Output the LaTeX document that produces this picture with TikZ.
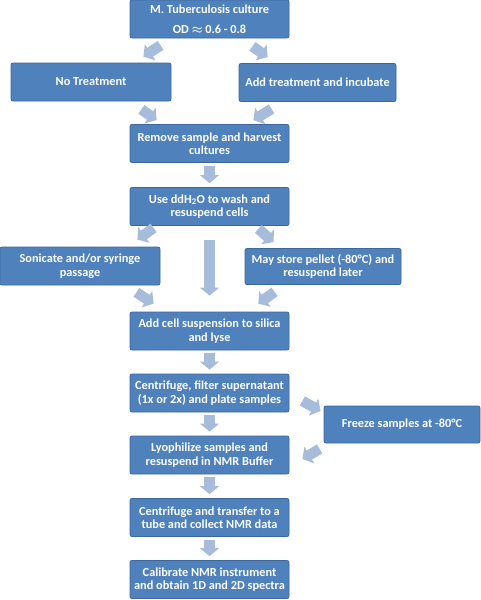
\documentclass[tikz,border=0pt]{standalone}
\usepackage{fontspec}
\setmainfont{Carlito}
\usetikzlibrary{arrows.meta, calc}

\definecolor{boxblue}{RGB}{79,129,189}
\definecolor{boxline}{RGB}{60,103,156}
\definecolor{arrowblue}{RGB}{167,187,218}

\begin{document}
\begin{tikzpicture}[
    x=1pt, y=-1pt,
    stepbox/.style={draw=boxline, fill=boxblue, rounded corners=2pt,
        line width=0.8pt, text=white, align=center, inner sep=2pt,
        minimum width=159pt, minimum height=38pt,
        font=\bfseries\boldmath\fontsize{12.3}{13.5}\selectfont},
    flowarrow/.style={draw=arrowblue, line width=10.5pt,
        -{Triangle[width=19pt,length=8pt]}}
]
\useasboundingbox (0,0) rectangle (481,600);

% Nodes
\node[stepbox] (culture) at (209.5,19) {M. Tuberculosis culture\\[6.5pt]OD $\approx$ 0.6 - 0.8};
\node[stepbox, minimum width=160pt] (notreat) at (91,82) {No Treatment};
\node[stepbox, minimum width=157pt] (addtreat) at (317.5,82.5) {Add treatment and incubate};
\node[stepbox] (harvest) at (209.5,143.5) {Remove sample and harvest\\cultures};
\node[stepbox] (wash) at (209.5,206.5) {Use ddH\textsubscript{2}O to wash and\\resuspend cells};
\node[stepbox, minimum width=160pt] (sonicate) at (80,266) {Sonicate and/or syringe\\passage};
\node[stepbox, minimum width=156pt, minimum height=36pt] (store) at (323,266.5) {May store pellet (-80°C) and\\resuspend later};
\node[stepbox] (lyse) at (209.5,331) {Add cell suspension to silica\\and lyse};
\node[stepbox] (filter) at (209.5,393) {Centrifuge, filter supernatant\\(1x or 2x) and plate samples};
\node[stepbox, minimum width=156pt, minimum height=37pt] (freeze) at (402,424.5) {Freeze samples at -80°C};
\node[stepbox] (lyophilize) at (209.5,455) {Lyophilize samples and\\resuspend in NMR Buffer};
\node[stepbox] (transfer) at (209.5,517.5) {Centrifuge and transfer to a\\tube and collect NMR data};
\node[stepbox] (calibrate) at (209.5,579.5) {Calibrate NMR instrument\\and obtain 1D and 2D spectra};

% Arrows
\draw[flowarrow] ($(culture.south west)+(31,7)$) -- ($(notreat.north east)+(-28,-6)$);
\draw[flowarrow] ($(culture.south east)+(-37,8)$) -- ($(addtreat.north west)+(29,-6)$);
\draw[flowarrow] ($(notreat.south east)+(-30,8)$) -- ($(harvest.north west)+(27,-4)$);
\draw[flowarrow] ($(addtreat.south west)+(33,7)$) -- ($(harvest.north east)+(-36,-4)$);
\draw[flowarrow] ($(harvest.south)+(0,3)$) -- ($(wash.north)+(0,-4)$);
\draw[flowarrow] ($(wash.south west)+(24,2)$) -- ($(sonicate.north east)+(-23,-7)$);
\draw[flowarrow] ($(wash.south east)+(-31,3)$) -- ($(store.north west)+(29,-6)$);
\draw[flowarrow] ($(wash.south)+(0,14)$) -- ($(lyse.north)+(0,-16)$);
\draw[flowarrow] ($(sonicate.south east)+(-24,7)$) -- ($(lyse.north west)+(24,-8)$);
\draw[flowarrow] ($(store.south west)+(30,7)$) -- ($(lyse.north east)+(-31,-8)$);
\draw[flowarrow] ($(lyse.south)+(0,3)$) -- ($(filter.north)+(0,-4)$);
\draw[flowarrow] ($(filter.east)+(13,8)$) -- ($(freeze.west)+(-3,-13.5)$);
\draw[flowarrow] ($(freeze.west)+(-4,24.5)$) -- ($(lyophilize.east)+(13,4)$);
\draw[flowarrow] ($(filter.south)+(0,3)$) -- ($(lyophilize.north)+(0,-4)$);
\draw[flowarrow] ($(lyophilize.south)+(0,3)$) -- ($(transfer.north)+(0,-4)$);
\draw[flowarrow] ($(transfer.south)+(0,3)$) -- ($(calibrate.north)+(0,-4)$);

\end{tikzpicture}
\end{document}
